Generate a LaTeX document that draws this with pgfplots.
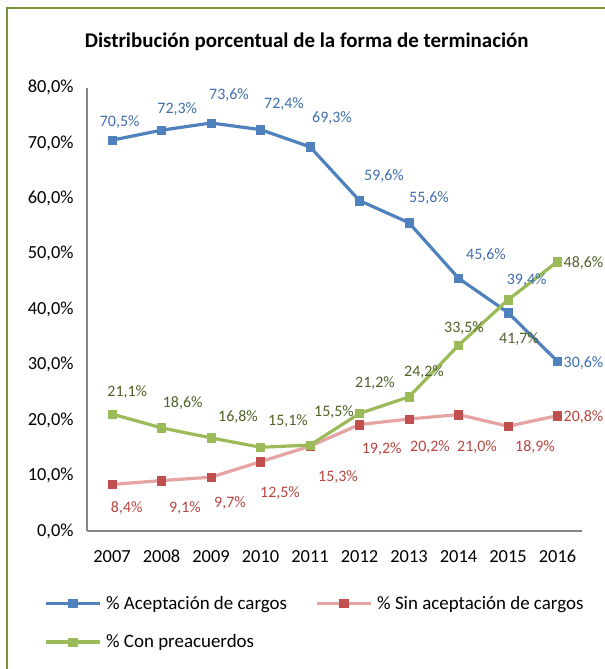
\documentclass[border=0pt]{standalone}
\usepackage{pgfplots}
\pgfplotsset{compat=1.18}
\usepackage{fontspec}
\setmainfont{Carlito}
\definecolor{cblue}{HTML}{4F81BD}
\definecolor{cbluelbl}{HTML}{3F6EAE}
\definecolor{cred}{HTML}{C0504D}
\definecolor{credline}{HTML}{E6A3A3}
\definecolor{credlbl}{HTML}{B8453F}
\definecolor{cgreen}{HTML}{9BBB59}
\definecolor{cgreenlbl}{HTML}{4F6228}
\definecolor{cborder}{HTML}{77933C}
\definecolor{caxis}{HTML}{868686}
\tikzset{
  lb/.style={text=cbluelbl, font=\fontsize{16}{19}\selectfont},
  lr/.style={text=credlbl, font=\fontsize{16}{19}\selectfont},
  lg/.style={text=cgreenlbl, font=\fontsize{16}{19}\selectfont},
}
\begin{document}
\begin{tikzpicture}
\useasboundingbox (0bp,0bp) rectangle (605bp,-669bp);
\begin{scope}
\clip (0bp,0bp) rectangle (605bp,-669bp);
\draw[cborder, line width=2.2bp] (7bp,-700bp) -- (7bp,-8bp) -- (700bp,-8bp);
\end{scope}
\node[font=\fontsize{21}{25}\selectfont\bfseries] at (306.7bp,-42bp) {Distribución porcentual de la forma de terminación};
\begin{axis}[
  at={(87.25bp,-531bp)}, anchor=south west,
  scale only axis, width=495bp, height=443.5bp,
  xmin=-0.5, xmax=9.5, ymin=0, ymax=80,
  axis x line=bottom, axis y line=left,
  axis line style={caxis, line width=1.8bp, -},
  xtick={0,...,9},
  xticklabels={2007,2008,2009,2010,2011,2012,2013,2014,2015,2016},
  ytick={0,10,20,30,40,50,60,70,80},
  yticklabels={{0,0\%},{10,0\%},{20,0\%},{30,0\%},{40,0\%},{50,0\%},{60,0\%},{70,0\%},{80,0\%}},
  major tick length=0pt,
  tick label style={font=\fontsize{18.5}{21}\selectfont, black},
  xticklabel style={anchor=north, inner sep=0pt, yshift=-19bp},
  yticklabel style={anchor=east, inner sep=0pt, xshift=-13.5bp},
  clip=false,
  legend columns=2,
  legend cell align=left,
  legend style={at={(axis description cs:-0.0874,-0.1466)}, anchor=north west,
    draw=none, fill=none, inner sep=0pt, outer sep=0pt,
    font=\fontsize{19}{22}\selectfont, row sep=24bp,
    nodes={inner sep=0pt},
    /tikz/every odd column/.append style={column sep=5bp},
    /tikz/every even column/.append style={column sep=28bp}},
  legend image code/.code={\draw[mark repeat=2, mark phase=2, #1] plot coordinates {(0bp,0bp) (27bp,0bp) (54bp,0bp)};},
  every axis plot/.append style={line width=3.2bp, mark=square*, mark size=4.2bp},
]
\addplot[color=cblue, mark options={solid, fill=cblue, draw=cblue, line width=0.5bp}] coordinates {
  (0,70.5) (1,72.3) (2,73.6) (3,72.4) (4,69.3) (5,59.6) (6,55.6) (7,45.6) (8,39.4) (9,30.6)};
\addlegendentry{\% Aceptación de cargos}
\addplot[color=credline, mark options={solid, fill=cred, draw=cred, line width=0.5bp}] coordinates {
  (0,8.4) (1,9.1) (2,9.7) (3,12.5) (4,15.3) (5,19.2) (6,20.2) (7,21.0) (8,18.9) (9,20.8)};
\addlegendentry{\% Sin aceptación de cargos}
\addplot[color=cgreen, mark options={solid, fill=cgreen, draw=cgreen, line width=0.5bp}] coordinates {
  (0,21.1) (1,18.6) (2,16.8) (3,15.1) (4,15.5) (5,21.2) (6,24.2) (7,33.5) (8,41.7) (9,48.6)};
\addlegendentry{\% Con preacuerdos}
% data labels, blue
\node[lb] at (axis cs:0.156,73.83) {70,5\%};
\node[lb] at (axis cs:1.319,76.06) {72,3\%};
\node[lb] at (axis cs:2.364,78.64) {73,6\%};
\node[lb] at (axis cs:3.475,77.02) {72,4\%};
\node[lb] at (axis cs:4.444,74.49) {69,3\%};
\node[lb] at (axis cs:5.495,64.08) {59,6\%};
\node[lb] at (axis cs:6.404,60.06) {55,6\%};
\node[lb] at (axis cs:7.556,49.78) {45,6\%};
\node[lb] at (axis cs:8.378,45.27) {39,4\%};
\node[lb] at (axis cs:9.525,30.30) {30,6\%};
% green
\node[lg] at (axis cs:0.309,25.13) {21,1\%};
\node[lg] at (axis cs:1.428,23.14) {18,6\%};
\node[lg] at (axis cs:2.545,20.56) {16,8\%};
\node[lg] at (axis cs:3.556,19.90) {15,1\%};
\node[lg] at (axis cs:4.485,21.52) {15,5\%};
\node[lg] at (axis cs:5.313,26.64) {21,2\%};
\node[lg] at (axis cs:6.303,28.73) {24,2\%};
\node[lg] at (axis cs:7.111,36.67) {33,5\%};
\node[lg] at (axis cs:8.222,34.63) {41,7\%};
\node[lg] at (axis cs:9.525,48.39) {48,6\%};
% red
\node[lr] at (axis cs:0.297,4.09) {8,4\%};
\node[lr] at (axis cs:1.475,4.09) {9,1\%};
\node[lr] at (axis cs:2.384,5.00) {9,7\%};
\node[lr] at (axis cs:3.394,6.91) {12,5\%};
\node[lr] at (axis cs:4.566,9.79) {15,3\%};
\node[lr] at (axis cs:5.448,14.74) {19,2\%};
\node[lr] at (axis cs:6.424,15.21) {20,2\%};
\node[lr] at (axis cs:7.374,15.21) {21,0\%};
\node[lr] at (axis cs:8.545,15.21) {18,9\%};
\node[lr] at (axis cs:9.525,20.62) {20,8\%};
\end{axis}
\end{tikzpicture}
\end{document}
